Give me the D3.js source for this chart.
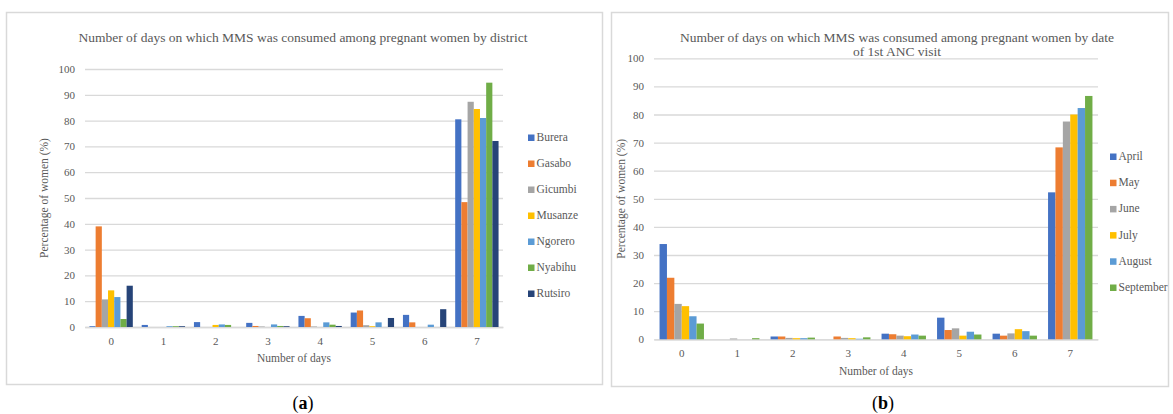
<!DOCTYPE html>
<html>
<head>
<meta charset="utf-8">
<script src="https://cdn.jsdelivr.net/npm/d3@7"></script>
<style>
  html, body { margin: 0; padding: 0; background: #ffffff; }
  svg text { font-family: "Liberation Serif", "Times New Roman", serif; }
</style>
</head>
<body>
<svg id="fig" width="1173" height="414"></svg>
<script>
// Categories: number of days MMS was taken in the week
const days = ["0", "1", "2", "3", "4", "5", "6", "7"];
const yTicks = [0, 10, 20, 30, 40, 50, 60, 70, 80, 90, 100];

// Panel (a): percentage of women by district
const districts = ["Burera", "Gasabo", "Gicumbi", "Musanze", "Ngorero", "Nyabihu", "Rutsiro"];
const burera  = [0.3, 0.8, 1.9, 1.6, 4.3, 5.6, 4.7, 80.5];
const gasabo  = [39.0, 0.0, 0.0, 0.4, 3.4, 6.4, 1.8, 48.4];
const gicumbi = [10.7, 0.0, 0.0, 0.2, 0.2, 0.7, 0.0, 87.3];
const musanze = [14.2, 0.0, 0.8, 0.0, 0.0, 0.3, 0.0, 84.5];
const ngorero = [11.6, 0.3, 1.0, 1.0, 1.8, 1.8, 0.9, 81.0];
const nyabihu = [3.1, 0.3, 0.8, 0.4, 0.9, 0.0, 0.0, 94.7];
const rutsiro = [16.0, 0.3, 0.0, 0.3, 0.4, 3.5, 6.9, 72.1];

// Panel (b): percentage of women by month of first ANC visit
const months = ["April", "May", "June", "July", "August", "September"];
const april     = [33.9, 0.0, 1.0, 0.0, 2.0, 7.7, 2.0, 52.3];
const may       = [21.9, 0.0, 1.0, 1.0, 1.8, 3.3, 1.3, 68.3];
const june      = [12.6, 0.3, 0.5, 0.5, 1.3, 3.9, 2.1, 77.5];
const july      = [11.8, 0.0, 0.4, 0.4, 1.1, 1.3, 3.6, 80.0];
const august    = [8.2, 0.0, 0.4, 0.2, 1.7, 2.7, 2.9, 82.3];
const september = [5.6, 0.4, 0.6, 0.7, 1.3, 1.7, 1.3, 86.6];

const officePalette = ["#4472C4", "#ED7D31", "#A5A5A5", "#FFC000", "#5B9BD5", "#70AD47", "#264478"];
const textColor = "#595959";
const gridColor = "#d9d9d9";

const svg = d3.select("#fig");

function drawPanel(opts) {
  const g = svg.append("g");

  // chart-area frame
  g.append("rect")
    .attr("x", opts.frame[0] + 0.5).attr("y", opts.frame[1] + 0.5)
    .attr("width", opts.frame[2]).attr("height", opts.frame[3])
    .attr("fill", "#fff").attr("stroke", "#d9d9d9").attr("stroke-width", 1.5);

  const x0 = d3.scaleBand().domain(days)
    .range([opts.plot.left, opts.plot.right])
    .paddingInner(opts.gap).paddingOuter(opts.gap / 2);
  const x1 = d3.scaleBand().domain(opts.series).range([0, x0.bandwidth()]);
  const y = d3.scaleLinear().domain([0, 100]).range([opts.plot.bottom, opts.plot.top]);

  // gridlines and tick labels
  const yAxis = d3.axisLeft(y).tickValues(yTicks).tickSize(-(opts.plot.right - opts.plot.left)).tickPadding(10);
  const ya = g.append("g").attr("transform", `translate(${opts.plot.left},0)`).call(yAxis);
  ya.select(".domain").remove();
  ya.selectAll(".tick line").attr("stroke", gridColor).attr("stroke-width", 1.3);
  ya.selectAll(".tick text").attr("fill", textColor).attr("font-size", 11);

  const xAxis = d3.axisBottom(x0).tickSize(0).tickPadding(opts.xTickPad);
  const xa = g.append("g").attr("transform", `translate(0,${opts.plot.bottom})`).call(xAxis);
  xa.select(".domain").attr("stroke", gridColor).attr("stroke-width", 1.3);
  xa.selectAll(".tick text").attr("fill", textColor).attr("font-size", 11);

  // bars
  const groups = g.append("g").selectAll("g").data(days).join("g")
    .attr("transform", d => `translate(${x0(d)},0)`);
  groups.selectAll("rect")
    .data((d, i) => opts.series.map((s, k) => ({ s, k, v: opts.values[k][i] })))
    .join("rect")
    .attr("x", d => x1(d.s))
    .attr("width", x1.bandwidth())
    .attr("y", d => y(d.v))
    .attr("height", d => y(0) - y(d.v))
    .attr("fill", d => opts.palette[d.k]);

  // title
  const t = g.append("text").attr("x", opts.titleX).attr("y", opts.titleY)
    .attr("text-anchor", "middle").attr("fill", textColor).attr("font-size", 13.5);
  opts.title.forEach((line, i) => {
    t.append("tspan").attr("x", opts.titleX).attr("dy", i === 0 ? 0 : 14).text(line);
  });

  // axis titles
  g.append("text")
    .attr("x", (opts.plot.left + opts.plot.right) / 2).attr("y", opts.xTitleY)
    .attr("text-anchor", "middle").attr("fill", textColor).attr("font-size", 11.5)
    .text("Number of days");
  g.append("text")
    .attr("transform", `translate(${opts.yTitleX},${(opts.plot.top + opts.plot.bottom) / 2}) rotate(-90)`)
    .attr("text-anchor", "middle").attr("fill", textColor).attr("font-size", 11.5)
    .text("Percentage of women (%)");

  // legend
  const lg = g.append("g").selectAll("g").data(opts.series).join("g")
    .attr("transform", (d, i) => `translate(${opts.legend.x},${opts.legend.y + i * opts.legend.step})`);
  lg.append("rect").attr("x", 0).attr("y", -6.5).attr("width", 6.5).attr("height", 6.5)
    .attr("fill", (d, i) => opts.palette[i]);
  lg.append("text").attr("x", 8.5).attr("y", 0).attr("fill", textColor).attr("font-size", 11.5)
    .text(d => d);

  // panel tag
  const tag = svg.append("text").attr("x", opts.tagX).attr("y", 409)
    .attr("text-anchor", "middle").attr("fill", "#000").attr("font-size", 18);
  tag.append("tspan").text("(");
  tag.append("tspan").attr("font-weight", "bold").text(opts.tag);
  tag.append("tspan").text(")");
}

drawPanel({
  frame: [6, 12, 596, 372],
  plot: { left: 85, right: 503, top: 69, bottom: 327 },
  gap: 0.17,
  series: districts,
  values: [burera, gasabo, gicumbi, musanze, ngorero, nyabihu, rutsiro],
  palette: officePalette,
  title: ["Number of days on which MMS was consumed among pregnant women by district"],
  titleX: 303, titleY: 42,
  xTickPad: 10, xTitleY: 362, yTitleX: 48,
  legend: { x: 528, y: 141, step: 26 },
  tag: "a", tagX: 303
});

drawPanel({
  frame: [611, 12, 557, 374],
  plot: { left: 654, right: 1098, top: 58.3, bottom: 339.3 },
  gap: 0.2,
  series: months,
  values: [april, may, june, july, august, september],
  palette: officePalette,
  title: ["Number of days on which MMS was consumed among pregnant women by date", "of 1st ANC visit"],
  titleX: 897, titleY: 42,
  xTickPad: 10, xTitleY: 375, yTitleX: 625,
  legend: { x: 1110, y: 160, step: 26.2 },
  tag: "b", tagX: 883
});
</script>
</body>
</html>
